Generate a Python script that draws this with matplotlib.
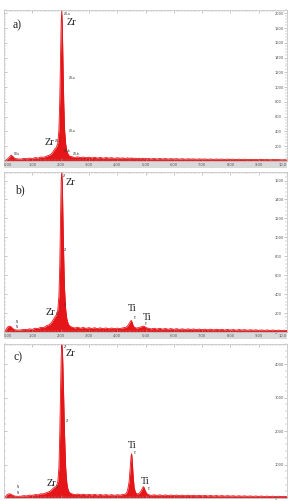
import matplotlib
matplotlib.use("Agg")
import matplotlib.pyplot as plt
from matplotlib.patches import Rectangle
from matplotlib.ticker import MultipleLocator, FixedLocator

# ---------------- data (energy in keV, counts) ----------------
energy = [0.00, 0.05, 0.10, 0.15, 0.20, 0.25, 0.30, 0.35, 0.40, 0.50,
          0.60, 0.70, 0.80, 0.90, 1.00, 1.10, 1.20, 1.30, 1.40, 1.50,
          1.60, 1.65, 1.70, 1.75, 1.80, 1.85, 1.90, 1.94, 1.97, 2.00,
          2.02, 2.04, 2.06, 2.08, 2.11, 2.14, 2.18, 2.22, 2.26, 2.30,
          2.35, 2.40, 2.50, 2.60, 2.70, 2.80, 2.90, 3.00, 3.10, 3.20,
          3.30, 3.40, 3.50, 3.60, 3.70, 3.80, 3.90, 4.00, 4.10, 4.20,
          4.30, 4.36, 4.42, 4.46, 4.49, 4.51, 4.53, 4.56, 4.60, 4.65,
          4.70, 4.76, 4.82, 4.87, 4.91, 4.93, 4.95, 4.99, 5.04, 5.10,
          5.20, 5.30, 5.40, 5.50, 5.60, 5.70, 5.80, 5.90, 6.00, 6.10,
          6.20, 6.30, 6.40, 6.50, 6.60, 6.70, 6.80, 6.90, 7.00, 7.10,
          7.20, 7.30, 7.40, 7.50, 7.60, 7.70, 7.80, 7.90, 8.00, 8.10,
          8.20, 8.30, 8.40, 8.50, 8.60, 8.70, 8.80, 8.90, 9.00, 9.10,
          9.20, 9.30, 9.40, 9.50, 9.60, 9.70, 9.80, 9.90, 10.00]

counts_a = [0, 8, 20, 38, 60, 78, 66, 45, 32, 28,
            26, 36, 30, 40, 34, 46, 40, 54, 50, 66,
            78, 90, 108, 135, 165, 185, 240, 420, 820, 1480,
            1880, 2035, 1840, 1420, 820, 430, 230, 140, 95, 72,
            62, 58, 48, 56, 46, 54, 44, 52, 42, 50,
            40, 48, 38, 47, 39, 45, 36, 44, 38, 42,
            34, 43, 36, 41, 33, 42, 35, 40, 32, 39,
            31, 38, 30, 37, 32, 36, 29, 35, 30, 34,
            28, 35, 27, 34, 28, 33, 26, 32, 27, 31,
            25, 31, 24, 30, 26, 29, 23, 29, 24, 28,
            22, 28, 21, 27, 23, 26, 20, 26, 21, 25,
            19, 25, 20, 24, 18, 23, 19, 22, 17, 22,
            18, 21, 16, 20, 17, 19, 15, 18, 14]

counts_b = [0, 15, 40, 58, 62, 55, 40, 28, 22, 20,
            22, 28, 25, 33, 28, 40, 36, 50, 46, 66,
            78, 92, 110, 135, 160, 180, 230, 380, 700, 1250,
            1600, 1690, 1580, 1250, 800, 450, 240, 140, 95, 70,
            58, 52, 42, 50, 40, 48, 38, 46, 37, 45,
            36, 44, 35, 43, 34, 42, 35, 41, 36, 44,
            48, 62, 88, 110, 122, 118, 100, 72, 52, 44,
            42, 46, 52, 58, 62, 63, 60, 52, 44, 40,
            32, 40, 31, 39, 30, 37, 29, 36, 28, 35,
            27, 34, 26, 33, 27, 32, 25, 31, 24, 30,
            23, 30, 22, 29, 23, 28, 21, 27, 20, 26,
            19, 26, 20, 25, 18, 24, 19, 23, 17, 22,
            17, 22, 16, 21, 16, 20, 15, 19, 14]

counts_c = [0, 40, 90, 120, 125, 110, 85, 65, 55, 50,
            55, 70, 62, 86, 78, 102, 95, 125, 125, 160,
            190, 220, 260, 300, 330, 350, 480, 900, 1900, 3300,
            4200, 4600, 4500, 4000, 3000, 1900, 900, 450, 260, 180,
            140, 125, 100, 118, 96, 114, 92, 110, 90, 108,
            86, 105, 84, 102, 82, 100, 80, 98, 86, 104,
            120, 200, 480, 900, 1250, 1320, 1150, 700, 300, 160,
            120, 130, 180, 260, 320, 340, 310, 220, 140, 100,
            78, 96, 76, 94, 74, 92, 72, 90, 70, 88,
            68, 86, 66, 84, 66, 82, 64, 80, 62, 78,
            60, 76, 58, 74, 58, 72, 56, 70, 54, 68,
            52, 66, 52, 64, 50, 62, 48, 60, 46, 58,
            46, 56, 44, 54, 44, 52, 42, 50, 40]

assert len(energy) == len(counts_a) == len(counts_b) == len(counts_c)

panel_tags = ["a)", "b)", "c)"]
y_tops = [2045, 1690, 4600]
y_tick_steps = [200, 200, 1000]
x_ticks = [0, 1, 2, 3, 4, 5, 6, 7, 8, 9, 10]
x_tick_labels = ["0.00", "1.00", "2.00", "3.00", "4.00", "5.00",
                 "6.00", "7.00", "8.00", "9.00", "10.0"]

# element labels: (text, energy, counts) per panel
labels_a = [("Zr", 2.40, 1880), ("Zr", 1.62, 257)]
labels_b = [("Zr", 2.35, 1584), ("Zr", 1.64, 205), ("Ti", 4.52, 243), ("Ti", 5.05, 148)]
labels_c = [("Zr", 2.35, 4330), ("Zr", 1.66, 430), ("Ti", 4.54, 1560), ("Ti", 5.00, 480)]

# tiny peak annotations
tiny_a = [("ZrLa", 2.10, 1995), ("ZrLa", 2.30, 1130), ("ZrLa", 2.30, 400),
          ("ZrLl", 1.80, 270), ("ZrLb", 2.10, 140), ("ZrLb", 2.45, 95), ("OKa", 0.35, 90)]
tiny_b = [("Zr", 2.07, 1650), ("Zr", 2.12, 870), ("Zr", 2.10, 280),
          ("Zr", 1.82, 190), ("Ti", 4.55, 150), ("Ti", 4.96, 80), ("N", 0.40, 110), ("N", 0.40, 55)]
tiny_c = [("Zr", 2.10, 4520), ("Zr", 2.20, 2300), ("Zr", 1.85, 330),
          ("Ti", 4.55, 1350), ("Ti", 5.06, 280), ("N", 0.45, 320), ("N", 0.45, 150)]

all_counts = [counts_a, counts_b, counts_c]
all_labels = [labels_a, labels_b, labels_c]
all_tiny = [tiny_a, tiny_b, tiny_c]

# ---------------- figure ----------------
W, H = 290, 501
fig = plt.figure(figsize=(W / 100, H / 100), dpi=100)
fig.patch.set_facecolor("white")

# axes boxes in pixels: (top, bottom)
boxes = [(10, 161), (172, 332), (344, 498)]
left_px, right_px = 4, 287
tag_pos = [(17, 25), (20, 190), (18, 357)]

red = "#e5161a"
serif = ["Liberation Serif", "DejaVu Serif"]

for i, (top, bot) in enumerate(boxes):
    ax = fig.add_axes([left_px / W, 1 - bot / H, (right_px - left_px) / W, (bot - top) / H])
    cnt = all_counts[i]
    ax.fill_between(energy, 0, cnt, color=red, lw=0)
    ax.plot(energy, cnt, color=red, lw=0.6)
    ax.set_xlim(0, 10)
    ax.set_ylim(0, y_tops[i])

    for sp in ax.spines.values():
        sp.set_color("#c8c8c8")
        sp.set_linewidth(0.6)

    ax.xaxis.set_major_locator(FixedLocator(x_ticks))
    ax.set_xticklabels(x_tick_labels)
    xl = ax.get_xticklabels()
    xl[0].set_ha("left")
    xl[-1].set_ha("right")
    ax.xaxis.set_minor_locator(MultipleLocator(0.1))
    ax.yaxis.set_major_locator(MultipleLocator(y_tick_steps[i]))
    ax.yaxis.set_minor_locator(MultipleLocator(y_tick_steps[i] / 5))
    ax.tick_params(axis="both", which="both", direction="in", color="#9a9a9a",
                   top=True, right=True, left=True, bottom=True)
    ax.tick_params(which="major", length=2, width=0.4)
    ax.tick_params(which="minor", length=1.2, width=0.3)
    ax.tick_params(axis="x", labelsize=2.6, labelcolor="#555555", pad=1.2)
    ax.tick_params(axis="y", labelleft=False, labelright=True, labelsize=2.6,
                   labelcolor="#555555", pad=-9)

    if i < 2:
        # grey band under the x axis
        band = Rectangle((0, -0.045), 1, 0.045, transform=ax.transAxes,
                         facecolor="#d9d9d9", edgecolor="none", clip_on=False, zorder=0)
        ax.add_patch(band)
    else:
        ax.tick_params(axis="x", labelbottom=False)

    for txt, x, y in all_labels[i]:
        ax.text(x, y, txt, fontsize=7.5, family=serif, ha="center", va="center",
                color="#222222")
    for txt, x, y in all_tiny[i]:
        ax.text(x, y, txt, fontsize=2.2, ha="left", va="center", color="#333333")

    tx, ty = tag_pos[i]
    fig.text(tx / W, 1 - ty / H, panel_tags[i], fontsize=8.5, family=serif,
             ha="center", va="center", color="#222222")

fig.savefig("out.png", dpi=100, facecolor="white")
